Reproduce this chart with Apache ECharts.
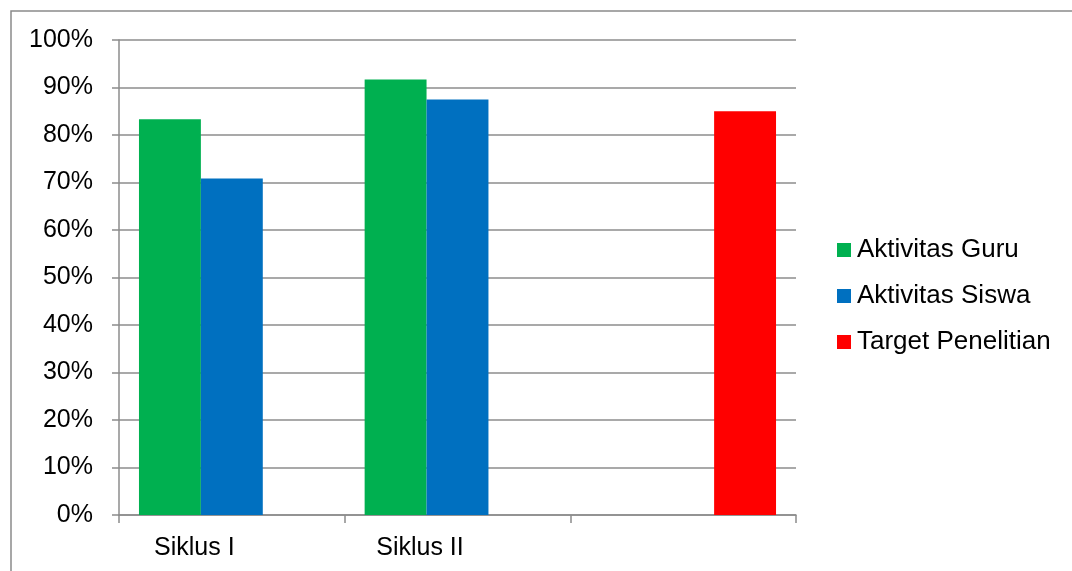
<!DOCTYPE html>
<html lang="id">
<head>
    <meta charset="utf-8">
    <title>Aktivitas Guru dan Siswa</title>
    <script src="https://cdn.jsdelivr.net/npm/echarts@6/dist/echarts.min.js"></script>
    <style>
        html, body { margin: 0; padding: 0; background: #fff; }
        #chart { width: 1072px; height: 571px; }
    </style>
</head>
<body>
<div id="chart"></div>
<script>
    // data
    var categories = ['Siklus I', 'Siklus II', ''];
    var guru = [83.33, 91.67, null];
    var siswa = [70.83, 87.5, null];
    var target = [null, null, 85];
    var seriesNames = ['Aktivitas Guru', 'Aktivitas Siswa', 'Target Penelitian'];
    var colors = ['#00b050', '#0070c0', '#ff0000'];

    var FONT = 'Liberation Sans, Arial, sans-serif';
    var grey = '#8c8c8c';

    var chart = echarts.init(document.getElementById('chart'));
    chart.setOption({
        animation: false,
        color: colors,
        textStyle: { fontFamily: FONT },
        graphic: [{
            type: 'polyline',
            shape: { points: [[11, 571], [11, 11], [1072, 11]] },
            style: { stroke: '#8a8a8a', lineWidth: 1.5, fill: null }
        }],
        legend: {
            orient: 'vertical',
            left: 832,
            top: 232,
            itemWidth: 14,
            itemHeight: 14,
            itemGap: 20,
            icon: 'rect',
            textStyle: { fontSize: 26, color: '#000', fontFamily: FONT, padding: [0, 0, 0, 1] },
            data: seriesNames
        },
        grid: { left: 119, right: 276, top: 40, bottom: 56 },
        xAxis: {
            type: 'category',
            data: categories,
            axisLine: { lineStyle: { color: grey, width: 1.5 } },
            axisTick: { show: true, length: 8, lineStyle: { color: grey, width: 1.5 } },
            axisLabel: {
                color: '#000', fontSize: 25, fontFamily: FONT, margin: 21,
                padding: [0, 75, 0, 0]
            }
        },
        yAxis: {
            type: 'value',
            min: 0, max: 100, interval: 10,
            axisLine: { show: true, lineStyle: { color: grey, width: 1.5 } },
            axisTick: { show: true, length: 7, lineStyle: { color: grey, width: 1.5 } },
            splitLine: { lineStyle: { color: grey, width: 1.5 } },
            axisLabel: {
                color: '#000', fontSize: 25, fontFamily: FONT, margin: 26,
                formatter: '{value}%'
            }
        },
        series: [
            { name: seriesNames[0], type: 'bar', data: guru, barGap: '0%', barCategoryGap: '17.7%' },
            { name: seriesNames[1], type: 'bar', data: siswa },
            { name: seriesNames[2], type: 'bar', data: target }
        ]
    });
</script>
</body>
</html>
